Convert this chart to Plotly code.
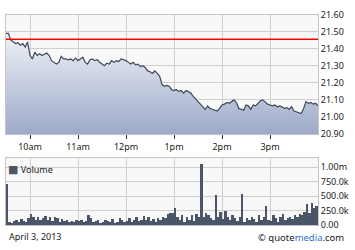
import pandas as pd
import plotly.graph_objects as go

# ---- data ----
session_date = "2013-04-03"
interval_minutes = 3
prices = [
    21.49, 21.49, 21.45, 21.44, 21.43, 21.435, 21.42, 21.43, 21.41, 21.44,
    21.36, 21.34, 21.38, 21.36, 21.37, 21.36, 21.37, 21.375, 21.36, 21.33,
    21.32, 21.31, 21.32, 21.355, 21.34, 21.34, 21.335, 21.34, 21.33, 21.345,
    21.33, 21.34, 21.35, 21.32, 21.31, 21.335, 21.34, 21.33, 21.335, 21.32,
    21.31, 21.30, 21.315, 21.31, 21.33, 21.32, 21.33, 21.325, 21.34, 21.335,
    21.33, 21.32, 21.31, 21.32, 21.305, 21.31, 21.295, 21.30, 21.29, 21.27,
    21.265, 21.255, 21.27, 21.255, 21.24, 21.19, 21.18, 21.185, 21.18, 21.16,
    21.155, 21.16, 21.15, 21.155, 21.14, 21.155, 21.145, 21.14, 21.12, 21.105,
    21.09, 21.07, 21.06, 21.045, 21.065, 21.05, 21.045, 21.04, 21.035, 21.05,
    21.07, 21.075, 21.085, 21.08, 21.09, 21.10, 21.085, 21.05, 21.045, 21.04,
    21.07, 21.065, 21.045, 21.07, 21.065, 21.08, 21.095, 21.10, 21.085, 21.075,
    21.07, 21.065, 21.07, 21.06, 21.065, 21.06, 21.05, 21.055, 21.045, 21.06,
    21.035, 21.03, 21.025, 21.02, 21.05, 21.09, 21.08, 21.085, 21.075, 21.08,
    21.065,
]
volumes = [
    720, 60, 40, 70, 90, 60, 110, 80, 50, 130,
    190, 140, 100, 150, 90, 130, 160, 100, 140, 80,
    150, 120, 60, 110, 70, 90, 50, 80, 60, 100,
    70, 90, 60, 80, 170, 120, 50, 70, 90, 40,
    60, 100, 80, 50, 110, 40, 60, 130, 90, 50,
    70, 120, 60, 90, 140, 70, 100, 160, 90, 150,
    80, 110, 60, 130, 90, 150, 120, 200, 210, 220,
    300, 140, 90, 170, 60, 150, 100, 180, 70, 200,
    140, 1060, 150, 220, 180, 120, 90, 520, 150, 230,
    110, 250, 140, 90, 180, 120, 70, 150, 540, 60,
    130, 90, 150, 110, 60, 170, 90, 140, 330, 100,
    80, 170, 120, 60, 140, 190, 100, 130, 150, 110,
    180, 140, 200, 170, 230, 360, 210, 380, 300, 340,
]
volumes = [v * 1000 for v in volumes]
prev_close = 21.455
hour_ticks = ["10:00", "11:00", "12:00", "13:00", "14:00", "15:00"]
hour_labels = ["10am", "11am", "12pm", "1pm", "2pm", "3pm"]
price_ticks = [20.9, 21.0, 21.1, 21.2, 21.3, 21.4, 21.5, 21.6]
vol_ticks = [0, 250000, 500000, 750000, 1000000]
vol_labels = ["0.00", "250.0k", "500.0k", "750.0k", "1.00m"]

start = pd.Timestamp(f"{session_date} 09:30")
price_times = pd.date_range(start, periods=len(prices), freq=f"{interval_minutes}min")
vol_times = pd.date_range(start + pd.Timedelta(seconds=90), periods=len(volumes),
                          freq=f"{interval_minutes}min")
x_range = [f"{session_date} 09:30", f"{session_date} 16:00"]
tickvals = [f"{session_date} {t}" for t in hour_ticks]

W, H = 355, 250
FONT = "Noto Sans, DejaVu Sans, sans-serif"
GRID = "#cfcfcf"
TXT = "#222222"
BAR = "#4a5568"

fig = go.Figure()
fig.add_trace(go.Scatter(
    x=price_times, y=prices, mode="lines",
    line=dict(color="#3d4758", width=1.2),
    fill="tozeroy",
    fillgradient=dict(type="vertical", start=20.9, stop=21.5,
                      colorscale=[[0, "#98a5c6"], [1, "#f0f2f7"]]),
    xaxis="x", yaxis="y", showlegend=False, hoverinfo="skip",
))
fig.add_trace(go.Bar(
    x=vol_times, y=volumes, marker=dict(color=BAR, line=dict(width=0)),
    width=interval_minutes * 60 * 1000 * 0.78,
    xaxis="x2", yaxis="y2", showlegend=False, hoverinfo="skip",
))

axis_common = dict(showgrid=True, gridcolor=GRID, gridwidth=1, showline=True,
                   linecolor="#c4c4c4", linewidth=1, mirror=True, zeroline=False)

fig.update_layout(
    width=W, height=H,
    margin=dict(l=0, r=0, t=0, b=0),
    paper_bgcolor="white", plot_bgcolor="#f8f8f8",
    font=dict(family=FONT, size=9, color=TXT),
    xaxis=dict(domain=[6 / W, 318 / W], type="date", range=x_range,
               tickvals=tickvals, ticktext=hour_labels, ticks="outside",
               ticklen=4, tickcolor="#333333", anchor="y", **axis_common),
    yaxis=dict(domain=[1 - 134 / H, 1 - 8 / H], range=[20.9, 21.6],
               tickvals=price_ticks, tickformat=".2f", side="right",
               anchor="x", **axis_common),
    xaxis2=dict(domain=[6 / W, 318 / W], type="date", range=x_range,
                tickvals=tickvals, showticklabels=False, anchor="y2",
                **axis_common),
    yaxis2=dict(domain=[1 - 230 / H, 1 - 159 / H], range=[0, 1160000],
                tickvals=vol_ticks, ticktext=vol_labels, side="right",
                anchor="x2", **axis_common),
    bargap=0,
)
fig.add_hline(y=prev_close, line=dict(color="#ff0000", width=1.5),
              xref="x", yref="y")

fig.add_annotation(xref="paper", yref="paper", x=6 / W, y=1 - 160 / H,
                   xanchor="left", yanchor="top", showarrow=False,
                   text=f"<span style='color:{BAR};font-size:11px'>■</span> Volume",
                   font=dict(size=9, color=TXT))
fig.add_annotation(xref="paper", yref="paper", x=7 / W, y=1 - 242 / H,
                   xanchor="left", yanchor="middle", showarrow=False,
                   text="April 3, 2013", font=dict(size=9, color=TXT))
fig.add_annotation(xref="paper", yref="paper", x=346 / W, y=1 - 243 / H,
                   xanchor="right", yanchor="middle", showarrow=False,
                   text="© quote<span style='color:#2f6fd0'>media</span>.com",
                   font=dict(size=9.5, color=TXT))

fig.write_html("out.html")
